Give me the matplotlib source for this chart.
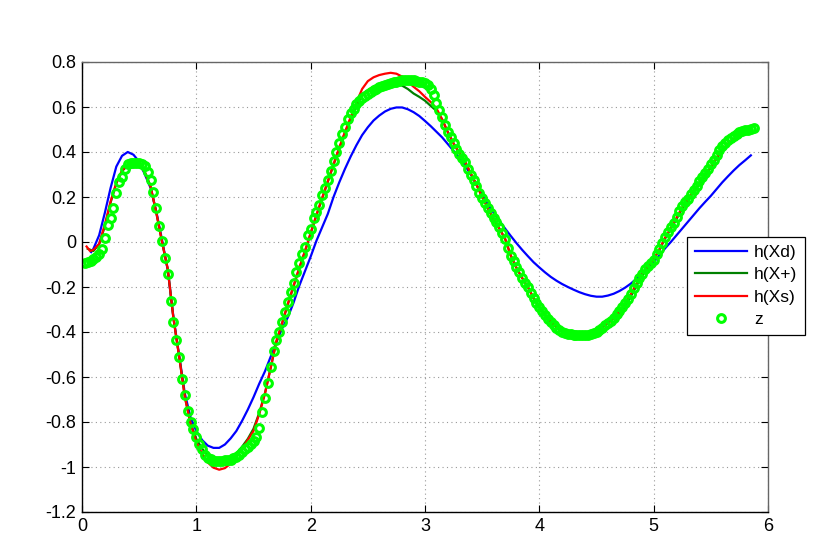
import matplotlib
matplotlib.use("Agg")
import matplotlib.pyplot as plt
import numpy as np

plt.rcParams['font.family'] = ['Liberation Sans', 'DejaVu Sans']

# ---------------- data ----------------
x_d = [0.08, 0.10, 0.15, 0.20, 0.25, 0.30, 0.35, 0.40, 0.45, 0.50, 0.55, 0.60, 0.65, 0.70, 0.75,
       0.80, 0.85, 0.90, 0.95, 1.00, 1.05, 1.10, 1.15, 1.20, 1.25, 1.30, 1.35, 1.40, 1.45, 1.50,
       1.55, 1.60, 1.65, 1.70, 1.75, 1.80, 1.85, 1.90, 1.95, 2.00, 2.05, 2.10, 2.15, 2.20, 2.25,
       2.30, 2.35, 2.40, 2.45, 2.50, 2.55, 2.60, 2.65, 2.70, 2.75, 2.80, 2.85, 2.90, 2.95, 3.00,
       3.05, 3.10, 3.15, 3.20, 3.25, 3.30, 3.35, 3.40, 3.45, 3.50, 3.55, 3.60, 3.65, 3.70, 3.75,
       3.80, 3.85, 3.90, 3.95, 4.00, 4.05, 4.10, 4.15, 4.20, 4.25, 4.30, 4.35, 4.40, 4.45, 4.50,
       4.55, 4.60, 4.65, 4.70, 4.75, 4.80, 4.85, 4.90, 4.95, 5.00, 5.05, 5.10, 5.15, 5.20, 5.25,
       5.30, 5.35, 5.40, 5.45, 5.50, 5.55, 5.60, 5.65, 5.70, 5.75, 5.80, 5.85]
h_xd = [-0.045, -0.030, 0.030, 0.130, 0.240, 0.335, 0.383, 0.400, 0.388, 0.357, 0.300, 0.240, 0.135, 0.010, -0.125,
        -0.335, -0.505, -0.675, -0.780, -0.840, -0.880, -0.905, -0.915, -0.915, -0.900, -0.873, -0.840, -0.795, -0.745, -0.690,
        -0.630, -0.575, -0.510, -0.445, -0.385, -0.335, -0.270, -0.195, -0.130, -0.065, 0.005, 0.065, 0.125, 0.200, 0.265,
        0.325, 0.380, 0.430, 0.475, 0.510, 0.540, 0.562, 0.580, 0.592, 0.598, 0.598, 0.590, 0.577, 0.560, 0.538,
        0.515, 0.490, 0.465, 0.435, 0.405, 0.375, 0.340, 0.300, 0.255, 0.210, 0.167, 0.130, 0.095, 0.060, 0.027,
        -0.005, -0.035, -0.063, -0.090, -0.113, -0.135, -0.155, -0.172, -0.187, -0.200, -0.212, -0.223, -0.232, -0.239, -0.243,
        -0.243, -0.238, -0.230, -0.218, -0.203, -0.185, -0.163, -0.140, -0.115, -0.090, -0.060, -0.028, 0.000, 0.030, 0.060,
        0.090, 0.120, 0.150, 0.178, 0.205, 0.235, 0.265, 0.292, 0.318, 0.342, 0.363, 0.385]

x_p = [0.05, 0.10, 0.15, 0.20, 0.25, 0.30, 0.35, 0.40, 0.45, 0.50, 0.55, 0.60, 0.65, 0.70, 0.75,
       0.80, 0.85, 0.90, 0.95, 1.00, 1.05, 1.10, 1.15, 1.20, 1.25, 1.30, 1.35, 1.40, 1.45, 1.50,
       1.55, 1.60, 1.65, 1.70, 1.75, 1.80, 1.85, 1.90, 1.95, 2.00, 2.05, 2.10, 2.15, 2.20, 2.25,
       2.30, 2.35, 2.40, 2.45, 2.50, 2.55, 2.60, 2.65, 2.70, 2.75, 2.80, 2.85, 2.90, 2.95, 3.00,
       3.05, 3.10, 3.15, 3.20, 3.25, 3.30, 3.35, 3.40, 3.45, 3.50, 3.55, 3.60, 3.65, 3.70, 3.75,
       3.80, 3.85, 3.90, 3.95, 4.00, 4.05, 4.10, 4.15, 4.20, 4.25, 4.30, 4.35, 4.40, 4.45, 4.50,
       4.55, 4.60, 4.65, 4.70, 4.75, 4.80, 4.85, 4.90, 4.95, 5.00, 5.05, 5.10, 5.15, 5.20, 5.25,
       5.30, 5.35, 5.40, 5.45, 5.50, 5.55, 5.60, 5.65, 5.70, 5.75, 5.80, 5.85]
h_xp = [-0.030, -0.040, -0.010, 0.070, 0.175, 0.260, 0.315, 0.340, 0.348, 0.342, 0.310, 0.246, 0.130, 0.000, -0.120,
        -0.340, -0.510, -0.690, -0.805, -0.875, -0.918, -0.948, -0.965, -0.975, -0.975, -0.962, -0.940, -0.910, -0.875, -0.830,
        -0.760, -0.672, -0.560, -0.445, -0.362, -0.278, -0.198, -0.118, -0.042, 0.038, 0.118, 0.193, 0.268, 0.343, 0.415,
        0.485, 0.545, 0.605, 0.655, 0.675, 0.690, 0.702, 0.706, 0.705, 0.700, 0.695, 0.680, 0.660, 0.645, 0.628,
        0.605, 0.583, 0.545, 0.488, 0.438, 0.395, 0.357, 0.305, 0.255, 0.200, 0.150, 0.100, 0.060, 0.015, -0.060,
        -0.115, -0.160, -0.200, -0.250, -0.290, -0.325, -0.355, -0.380, -0.398, -0.410, -0.418, -0.422, -0.425, -0.422, -0.412,
        -0.398, -0.380, -0.358, -0.325, -0.288, -0.242, -0.195, -0.150, -0.110, -0.078, -0.035, 0.015, 0.058, 0.102, 0.148,
        0.185, 0.222, 0.258, 0.292, 0.330, 0.370, 0.405, 0.435, 0.455, 0.468, 0.480, 0.492]

x_s = [0.04, 0.07, 0.10, 0.15, 0.20, 0.25, 0.30, 0.35, 0.40, 0.45, 0.50, 0.55, 0.60, 0.65, 0.70, 0.75,
       0.80, 0.85, 0.90, 0.95, 1.00, 1.05, 1.10, 1.15, 1.20, 1.25, 1.30, 1.35, 1.40, 1.45, 1.50,
       1.55, 1.60, 1.65, 1.70, 1.75, 1.80, 1.85, 1.90, 1.95, 2.00, 2.05, 2.10, 2.15, 2.20, 2.25,
       2.30, 2.35, 2.40, 2.45, 2.50, 2.55, 2.60, 2.65, 2.70, 2.75, 2.80, 2.85, 2.90, 2.95, 3.00,
       3.05, 3.10, 3.15, 3.20, 3.25, 3.30, 3.35, 3.40, 3.45, 3.50, 3.55, 3.60, 3.65, 3.70, 3.75,
       3.80, 3.85, 3.90, 3.95, 4.00, 4.05, 4.10, 4.15, 4.20, 4.25, 4.30, 4.35, 4.40, 4.45, 4.50,
       4.55, 4.60, 4.65, 4.70, 4.75, 4.80, 4.85, 4.90, 4.95, 5.00, 5.05, 5.10, 5.15, 5.20, 5.25,
       5.30, 5.35, 5.40, 5.45, 5.50, 5.55, 5.60, 5.65, 5.70, 5.75, 5.80, 5.85]
h_xs = [-0.020, -0.040, -0.035, -0.008, 0.078, 0.180, 0.263, 0.318, 0.342, 0.350, 0.343, 0.310, 0.246, 0.130, 0.000, -0.120,
        -0.340, -0.510, -0.690, -0.810, -0.890, -0.940, -0.980, -1.003, -1.012, -1.005, -0.985, -0.955, -0.920, -0.880, -0.840,
        -0.765, -0.675, -0.560, -0.440, -0.360, -0.275, -0.195, -0.115, -0.040, 0.040, 0.120, 0.195, 0.270, 0.345, 0.420,
        0.490, 0.555, 0.620, 0.680, 0.715, 0.732, 0.742, 0.748, 0.752, 0.748, 0.735, 0.712, 0.690, 0.670, 0.645,
        0.622, 0.594, 0.545, 0.488, 0.438, 0.395, 0.357, 0.305, 0.255, 0.200, 0.150, 0.100, 0.060, 0.015, -0.060,
        -0.115, -0.160, -0.200, -0.250, -0.290, -0.325, -0.355, -0.378, -0.390, -0.398, -0.410, -0.415, -0.416, -0.412, -0.400,
        -0.382, -0.362, -0.340, -0.308, -0.275, -0.232, -0.185, -0.142, -0.108, -0.078, -0.032, 0.020, 0.062, 0.108, 0.155,
        0.190, 0.228, 0.265, 0.298, 0.335, 0.375, 0.410, 0.438, 0.455, 0.470, 0.482, 0.495]

x_z = [0.025, 0.050, 0.075, 0.100, 0.125, 0.150, 0.175, 0.200, 0.225, 0.250, 0.275, 0.300, 0.325, 0.350, 0.375,
       0.400, 0.425, 0.450, 0.475, 0.500, 0.525, 0.550, 0.575, 0.600, 0.625, 0.650, 0.675, 0.700, 0.725, 0.750,
       0.775, 0.800, 0.825, 0.850, 0.875, 0.900, 0.925, 0.950, 0.975, 1.000, 1.025, 1.050, 1.075, 1.100, 1.125,
       1.150, 1.175, 1.200, 1.225, 1.250, 1.275, 1.300, 1.325, 1.350, 1.375, 1.400, 1.425, 1.450, 1.475, 1.500,
       1.525, 1.550, 1.575, 1.600, 1.625, 1.650, 1.675, 1.700, 1.725, 1.750, 1.775, 1.800, 1.825, 1.850, 1.875,
       1.900, 1.925, 1.950, 1.975, 2.000, 2.025, 2.050, 2.075, 2.100, 2.125, 2.150, 2.175, 2.200, 2.225, 2.250,
       2.275, 2.300, 2.325, 2.350, 2.375, 2.400, 2.425, 2.450, 2.475, 2.500, 2.525, 2.550, 2.575, 2.600, 2.625,
       2.650, 2.675, 2.700, 2.725, 2.750, 2.775, 2.800, 2.825, 2.850, 2.875, 2.900, 2.925, 2.950, 2.975, 3.000,
       3.025, 3.050, 3.075, 3.100, 3.125, 3.150, 3.175, 3.200, 3.225, 3.250, 3.275, 3.300, 3.325, 3.350, 3.375,
       3.400, 3.425, 3.450, 3.475, 3.500, 3.525, 3.550, 3.575, 3.600, 3.625, 3.650, 3.675, 3.700, 3.725, 3.750,
       3.775, 3.800, 3.825, 3.850, 3.875, 3.900, 3.925, 3.950, 3.975, 4.000, 4.025, 4.050, 4.075, 4.100, 4.125,
       4.150, 4.175, 4.200, 4.225, 4.250, 4.275, 4.300, 4.325, 4.350, 4.375, 4.400, 4.425, 4.450, 4.475, 4.500,
       4.525, 4.550, 4.575, 4.600, 4.625, 4.650, 4.675, 4.700, 4.725, 4.750, 4.775, 4.800, 4.825, 4.850, 4.875,
       4.900, 4.925, 4.950, 4.975, 5.000, 5.025, 5.050, 5.075, 5.100, 5.125, 5.150, 5.175, 5.200, 5.225, 5.250,
       5.275, 5.300, 5.325, 5.350, 5.375, 5.400, 5.425, 5.450, 5.475, 5.500, 5.525, 5.550, 5.575, 5.600, 5.625,
       5.650, 5.675, 5.700, 5.725, 5.750, 5.775, 5.800, 5.825, 5.850, 5.875]
z = [-0.092, -0.088, -0.083, -0.076, -0.067, -0.052, -0.030, 0.020, 0.075, 0.108, 0.150, 0.220, 0.265, 0.290, 0.325,
     0.345, 0.350, 0.352, 0.352, 0.350, 0.348, 0.340, 0.312, 0.275, 0.222, 0.150, 0.070, 0.005, -0.070, -0.140,
     -0.260, -0.355, -0.435, -0.510, -0.610, -0.680, -0.750, -0.800, -0.830, -0.865, -0.898, -0.922, -0.945, -0.958, -0.966,
     -0.972, -0.975, -0.975, -0.972, -0.970, -0.970, -0.968, -0.962, -0.955, -0.945, -0.935, -0.922, -0.910, -0.898, -0.885,
     -0.865, -0.825, -0.755, -0.695, -0.625, -0.555, -0.485, -0.435, -0.400, -0.355, -0.310, -0.265, -0.220, -0.180, -0.135,
     -0.095, -0.055, -0.020, 0.030, 0.060, 0.105, 0.135, 0.165, 0.210, 0.240, 0.275, 0.315, 0.360, 0.400, 0.440,
     0.480, 0.510, 0.545, 0.572, 0.592, 0.612, 0.627, 0.638, 0.650, 0.660, 0.668, 0.675, 0.682, 0.690, 0.695,
     0.700, 0.703, 0.706, 0.710, 0.713, 0.716, 0.718, 0.720, 0.720, 0.720, 0.719, 0.716, 0.713, 0.710, 0.706,
     0.700, 0.680, 0.652, 0.620, 0.588, 0.555, 0.520, 0.490, 0.468, 0.440, 0.412, 0.390, 0.375, 0.355, 0.325,
     0.300, 0.275, 0.248, 0.220, 0.195, 0.172, 0.150, 0.128, 0.106, 0.088, 0.065, 0.040, 0.015, -0.025, -0.060,
     -0.085, -0.110, -0.135, -0.160, -0.180, -0.200, -0.225, -0.250, -0.270, -0.290, -0.308, -0.325, -0.342, -0.356, -0.370,
     -0.382, -0.392, -0.400, -0.405, -0.408, -0.410, -0.412, -0.414, -0.414, -0.414, -0.413, -0.412, -0.410, -0.406, -0.398,
     -0.390, -0.380, -0.370, -0.360, -0.350, -0.338, -0.322, -0.305, -0.290, -0.272, -0.252, -0.230, -0.205, -0.180, -0.160,
     -0.140, -0.120, -0.105, -0.092, -0.080, -0.055, -0.030, -0.005, 0.022, 0.045, 0.065, 0.085, 0.110, 0.140, 0.160,
     0.178, 0.193, 0.212, 0.230, 0.250, 0.270, 0.287, 0.305, 0.323, 0.345, 0.366, 0.388, 0.408, 0.425, 0.440,
     0.452, 0.463, 0.473, 0.482, 0.488, 0.492, 0.496, 0.499, 0.502, 0.505]

labels = ['h(Xd)', 'h(X+)', 'h(Xs)', 'z']
x_ticks = [0, 1, 2, 3, 4, 5, 6]
y_ticks = [-1.2, -1, -0.8, -0.6, -0.4, -0.2, 0, 0.2, 0.4, 0.6, 0.8]
y_ticklabels = ['-1.2', '-1', '-0.8', '-0.6', '-0.4', '-0.2', '0', '0.2', '0.4', '0.6', '0.8']

# ---------------- figure ----------------
fig = plt.figure(figsize=(8.30, 5.54), dpi=100)
ax = fig.add_axes([82/830, 42/554, 686/830, 450/554])

ax.plot(x_d, h_xd, color=(0, 0, 1), lw=1.6, label=labels[0])
ax.plot(x_p, h_xp, color=(0, 0.5, 0), lw=1.6, label=labels[1])
ax.plot(x_s, h_xs, color=(1, 0, 0), lw=1.6, label=labels[2])
ax.plot(x_z, z, linestyle='none', marker='o', markersize=5.6, markerfacecolor='none',
        markeredgecolor=(0, 1, 0), markeredgewidth=2.2, label=labels[3])

ax.set_xlim(0, 6)
ax.set_ylim(-1.2, 0.8)
ax.set_xticks(x_ticks)
ax.set_xticklabels([str(t) for t in x_ticks])
ax.set_yticks(y_ticks)
ax.set_yticklabels(y_ticklabels)

ax.grid(True, linestyle=(0, (1, 3)), color=(0.6, 0.6, 0.6), lw=0.8)
ax.tick_params(direction='in', length=5, width=0.8, top=True, right=True,
               labelsize=13, colors='black', pad=4)
for side in ['left', 'bottom']:
    ax.spines[side].set_color('black')
    ax.spines[side].set_linewidth(1.0)
for side in ['top', 'right']:
    ax.spines[side].set_color((0.4, 0.4, 0.4))
    ax.spines[side].set_linewidth(1.0)

leg = ax.legend(loc='upper left', bbox_to_anchor=((687-82)/686, (512-237)/450),
                borderaxespad=0, fancybox=False, framealpha=1, edgecolor='black',
                fontsize=12.5, handlelength=3.0, numpoints=1, labelspacing=0.42,
                borderpad=0.45, handletextpad=0.4)
leg.get_frame().set_linewidth(0.9)

fig.savefig('out.png', dpi=100)
